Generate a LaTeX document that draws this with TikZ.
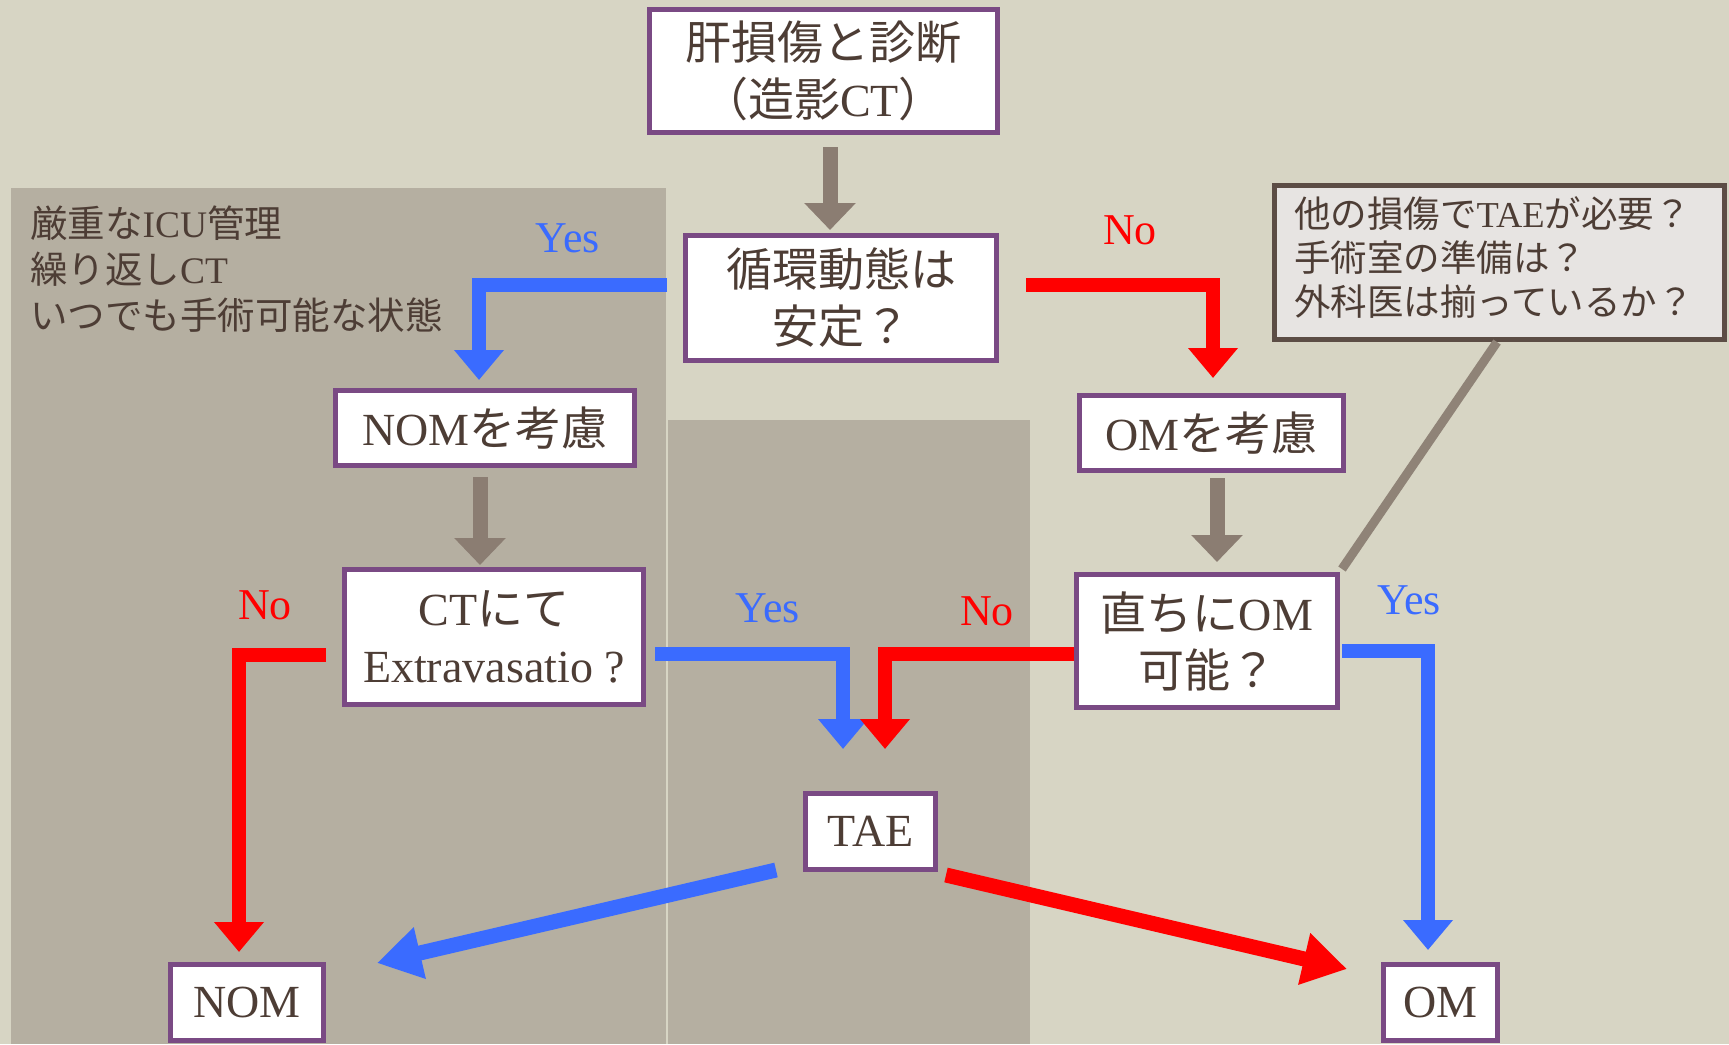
\documentclass[tikz,border=0pt]{standalone}
\usepackage{fontspec}
\setmainfont{Liberation Serif}
\newfontfamily\jp{Noto Sans CJK JP}
\usetikzlibrary{arrows.meta,calc}
\definecolor{bg}{HTML}{D7D5C4}
\definecolor{panel}{HTML}{B5AFA1}
\definecolor{boxline}{HTML}{7A4A84}
\definecolor{ink}{HTML}{4D3D35}
\definecolor{yesblue}{HTML}{3A6BFF}
\definecolor{nored}{HTML}{FF0000}
\definecolor{brarr}{HTML}{8B7D72}
\definecolor{callline}{HTML}{5C4D45}
\definecolor{callfill}{HTML}{E7E4E2}
\definecolor{leader}{HTML}{8F8377}
\begin{document}
\begin{tikzpicture}[x=1pt,y=-1pt,
  fbox/.style={draw=boxline, line width=5pt, fill=white, inner sep=0pt, align=center, text=ink, font=\fontsize{46}{57}\selectfont},
  lbl/.style={inner sep=0pt, font=\fontsize{44}{50}\selectfont},
  brownarrow/.style={draw=brarr, line width=15pt, -{Triangle[width=50pt,length=27pt]}},
  bluearrow/.style={draw=yesblue, line width=14pt, -{Triangle[width=48pt,length=30pt]}},
  redarrow/.style={draw=nored, line width=14pt, -{Triangle[width=48pt,length=30pt]}},
  diagarrow/.style={line width=15pt, -{Triangle[width=50pt,length=44pt]}}
]
\useasboundingbox (0,0) rectangle (1729,1044);
\fill[bg] (0,0) rectangle (1729,1044);
% panels
\fill[panel] (11,188) rectangle (666,1044);
\fill[panel] (667.5,420) rectangle (1030,1044);

% panel text
\node[anchor=north west, inner sep=0pt, align=left, text=ink, font=\fontsize{37.5}{46}\selectfont] (paneltext) at (30,206)
  {{\jp 厳重な}ICU{\jp 管理}\\{\jp 繰り返し}CT\\{\jp いつでも手術可能な状態}};

% boxes
\node[fbox, minimum width=348pt, minimum height=123pt] (diag) at (823.5,71) {{\jp 肝損傷と診断}\\{\jp （造影}CT{\jp ）}};
\node[fbox, minimum width=311pt, minimum height=125pt] (stable) at (841,298) {{\jp 循環動態は}\\{\jp 安定？}};
\node[fbox, minimum width=299pt, minimum height=75pt] (nomc) at (485,428) {NOM{\jp を考慮}};
\node[fbox, minimum width=264pt, minimum height=75pt] (omc) at (1211.5,433) {OM{\jp を考慮}};
\node[fbox, minimum width=299pt, minimum height=135pt] (ct) at (494,637) {CT{\jp にて}\\Extravasatio ?};
\node[fbox, minimum width=261pt, minimum height=133pt] (now) at (1207,641) {{\jp 直ちに}OM\\{\jp 可能？}};
\node[fbox, minimum width=130pt, minimum height=76pt] (tae) at (870.5,831.5) {TAE};
\node[fbox, minimum width=153pt, minimum height=76pt] (nom) at (247,1002.5) {NOM};
\node[fbox, minimum width=114pt, minimum height=76pt] (om) at (1440.5,1002.5) {OM};

% callout
\node[draw=callline, line width=5pt, fill=callfill, minimum width=450pt, minimum height=154pt, inner sep=0pt] (callout) at (1499.5,262.5) {};
\node[anchor=north west, inner sep=0pt, align=left, text=ink, font=\fontsize{36.5}{44}\selectfont] (calltext) at (1294,196)
  {{\jp 他の損傷で}TAE{\jp が必要？}\\{\jp 手術室の準備は？}\\{\jp 外科医は揃っているか？}};
\draw[leader, line width=9pt] ($(callout.south)+(-2.5,0)$) -- ($(now.north east)+(2,-3)$);

% brown arrows
\draw[brownarrow] ($(diag.south)+(6.5,12)$) -- ($(stable.north)+(-11,-3)$);
\draw[brownarrow] ($(nomc.south)+(-5,9)$) -- ($(ct.north)+(-14,-2)$);
\draw[brownarrow] ($(omc.south)+(5.5,5)$) -- ($(now.north)+(10,-10)$);

% elbow arrows
\draw[bluearrow] ($(stable.west)+(-16,-13.5)$) -| ($(nomc.north)+(-6,-8)$);
\draw[redarrow] ($(stable.east)+(27,-13.5)$) -| ($(omc.north)+(1.5,-15)$);
\draw[bluearrow] ($(ct.east)+(9,17)$) -| ($(tae.north)+(-27.5,-42)$);
\draw[redarrow] ($(now.west)+(0,13)$) -| ($(tae.north)+(14.5,-42)$);
\draw[redarrow] ($(ct.west)+(-16,18)$) -| ($(nom.north)+(-8,-10)$);
\draw[bluearrow] ($(now.east)+(2,10)$) -| ($(om.north)+(-12.5,-12)$);

% diagonal arrows
\draw[diagarrow, draw=yesblue] ($(tae.south west)+(-27,-2)$) -- ($(nom.north east)+(51,1)$);
\draw[diagarrow, draw=nored] ($(tae.south east)+(8,3)$) -- ($(om.north west)+(-34,7)$);

% labels
\node[lbl, text=yesblue] (yes1) at (568,238) {Yes};
\node[lbl, text=nored] (no1) at (1130,230) {No};
\node[lbl, text=yesblue] (yes2) at (768,608) {Yes};
\node[lbl, text=nored] (no2) at (987,611) {No};
\node[lbl, text=nored] (no3) at (265,605) {No};
\node[lbl, text=yesblue] (yes3) at (1409,600) {Yes};
\end{tikzpicture}
\end{document}
